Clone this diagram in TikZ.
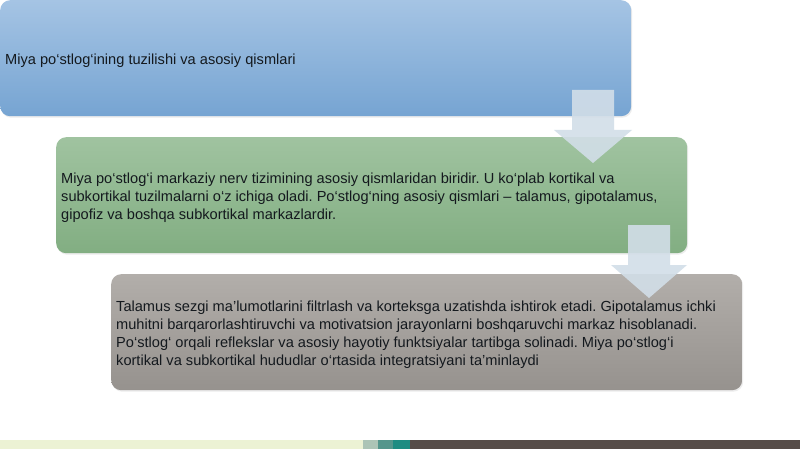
\documentclass[tikz,border=0pt]{standalone}
\usepackage{fontspec}
\setmainfont{Liberation Sans}
\usetikzlibrary{shadows}
\definecolor{bluetop}{RGB}{165,196,228}
\definecolor{bluebot}{RGB}{118,164,210}
\definecolor{greentop}{RGB}{160,195,160}
\definecolor{greenbot}{RGB}{130,174,130}
\definecolor{graytop}{RGB}{178,174,170}
\definecolor{graybot}{RGB}{150,146,142}
\definecolor{arrowc}{RGB}{210,222,232}
\definecolor{txt}{RGB}{20,25,30}
\definecolor{stripa}{RGB}{236,242,212}
\definecolor{stripb}{RGB}{172,196,182}
\definecolor{stripc}{RGB}{84,150,140}
\definecolor{stripd}{RGB}{30,140,130}
\definecolor{stripe}{RGB}{86,76,72}
\tikzset{
  panel/.style={rounded corners=10pt, minimum height=116pt, minimum width=631pt,
    inner sep=0pt, anchor=north west,
    drop shadow={opacity=0.15, shadow xshift=1pt, shadow yshift=-1.5pt}},
  paneltext/.style={anchor=west, inner xsep=5pt, inner ysep=0pt, align=left,
    text=txt, font=\fontsize{14.6pt}{18pt}\selectfont},
  blockarrow/.style={fill=arrowc, fill opacity=0.9, draw=none}
}
\begin{document}
\frenchspacing
\begin{tikzpicture}[x=1pt,y=-1pt]
\useasboundingbox (0,0) rectangle (800,449);
\fill[white] (0,0) rectangle (800,449);
% panels
\node[panel, top color=bluetop, bottom color=bluebot] (p1) at (0,0) {};
\node[panel, top color=greentop, bottom color=greenbot] (p2) at (56,137) {};
\node[panel, top color=graytop, bottom color=graybot] (p3) at (111,274) {};
% texts
\node[paneltext] (t1) at ([yshift=-3pt]p1.west) {Miya po‘stlog‘ining tuzilishi va asosiy qismlari};
\node[paneltext] (t2) at ([yshift=-3pt]p2.west) {Miya po‘stlog‘i markaziy nerv tizimining asosiy qismlaridan biridir. U ko‘plab kortikal va\\
subkortikal tuzilmalarni o‘z ichiga oladi. Po‘stlog‘ning asosiy qismlari – talamus, gipotalamus,\\
gipofiz va boshqa subkortikal markazlardir.};
\node[paneltext] (t3) at ([yshift=-3pt]p3.west) {Talamus sezgi ma’lumotlarini filtrlash va korteksga uzatishda ishtirok etadi. Gipotalamus ichki\\
muhitni barqarorlashtiruvchi va motivatsion jarayonlarni boshqaruvchi markaz hisoblanadi.\\
Po‘stlog‘ orqali reflekslar va asosiy hayotiy funktsiyalar tartibga solinadi. Miya po‘stlog‘i\\
kortikal va subkortikal hududlar o‘rtasida integratsiyani ta’minlaydi};
% block arrows
\fill[blockarrow] (572,90) -- (614,90) -- (614,130) -- (632,130) -- (593,163)
  -- (554,130) -- (572,130) -- cycle;
\fill[blockarrow] (628,225) -- (670,225) -- (670,265) -- (687,265) -- (649,298)
  -- (611,265) -- (628,265) -- cycle;
% bottom strip
\fill[stripa] (0,440) rectangle (363,449);
\fill[stripb] (363,440) rectangle (378,449);
\fill[stripc] (378,440) rectangle (393,449);
\fill[stripd] (393,440) rectangle (410,449);
\fill[stripe] (410,440) rectangle (800,449);
\end{tikzpicture}
\end{document}
